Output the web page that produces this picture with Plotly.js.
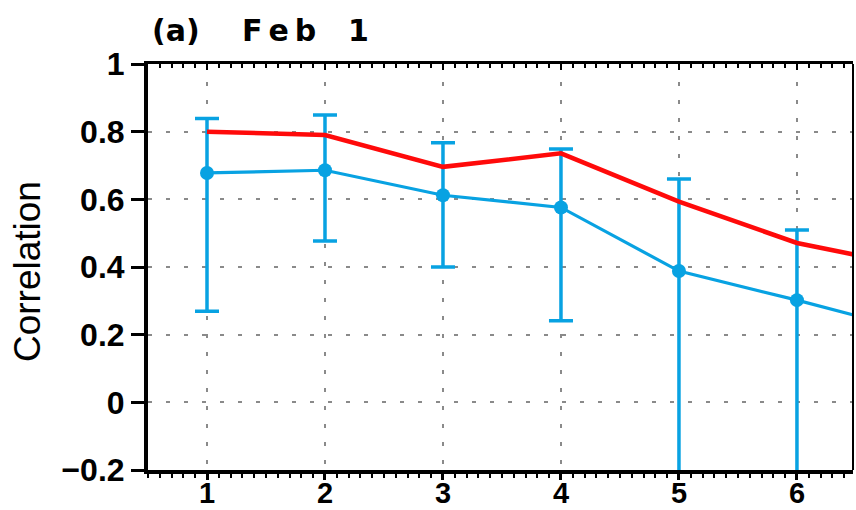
<!DOCTYPE html>
<html>
<head>
<meta charset="utf-8">
<script src="https://cdn.plot.ly/plotly-3.0.1.min.js"></script>
<style>
  html, body { margin: 0; padding: 0; background: #fff; }
  #chart { width: 856px; height: 510px; }
</style>
</head>
<body>
<div id="chart"></div>
<script>
// Forecast lead (months) and correlation skill
const leads = [1, 2, 3, 4, 5, 6, 7];
const tickLabels = ['1', '2', '3', '4', '5', '6'];

// Red curve: correlation of the ensemble mean
const ensembleMean = [0.80, 0.79, 0.696, 0.736, 0.593, 0.471, 0.40];

// Blue curve: mean of individual members, with spread (max / min)
const memberMean = [0.678, 0.686, 0.612, 0.576, 0.388, 0.302, 0.21];
const memberMax  = [0.839, 0.849, 0.767, 0.749, 0.660, 0.509, 0.21];
const memberMin  = [0.269, 0.477, 0.400, 0.241, -0.35, -0.40, 0.21];

const errPlus  = memberMax.map((v, i) => v - memberMean[i]);
const errMinus = memberMean.map((v, i) => v - memberMin[i]);

const BLUE = '#08a2e2';
const RED = '#ff0a0a';

const traces = [
  {
    x: leads, y: memberMean, type: 'scatter', mode: 'lines+markers',
    line: { color: BLUE, width: 3.2 },
    marker: { color: BLUE, size: 14, symbol: 'circle' },
    error_y: {
      type: 'data', symmetric: false,
      array: errPlus, arrayminus: errMinus,
      color: BLUE, thickness: 3.5, width: 12
    },
    cliponaxis: true, showlegend: false, hoverinfo: 'skip'
  },
  {
    x: leads, y: ensembleMean, type: 'scatter', mode: 'lines',
    line: { color: RED, width: 4.5 },
    cliponaxis: true, showlegend: false, hoverinfo: 'skip'
  },
  { x: [], y: [], xaxis: 'x2', yaxis: 'y', type: 'scatter', showlegend: false, hoverinfo: 'skip' }
];

const tickFont = { family: 'Liberation Sans, Arial, sans-serif', size: 32, color: '#000', weight: 'bold' };
const titleFont = { family: 'DejaVu Sans, sans-serif', size: 30, color: '#000', weight: 'bold' };
const xRange = [0.5, 6.475];

const layout = {
  width: 856, height: 510,
  margin: { l: 148, r: 3, t: 64, b: 40 },
  paper_bgcolor: '#fff', plot_bgcolor: '#fff',
  xaxis: {
    range: xRange, tickmode: 'array', tickvals: leads.slice(0, 6), ticktext: tickLabels,
    showline: true, linecolor: '#000', linewidth: 4, mirror: false,
    ticks: 'outside', ticklen: 6, tickwidth: 3, tickcolor: '#000',
    ticklabelstandoff: -12,
    minor: { dtick: 0.1, tick0: 0, ticks: 'outside', ticklen: 4, tickwidth: 2, tickcolor: '#000', showgrid: false },
    showgrid: true, gridcolor: '#8a8a8a', gridwidth: 2, griddash: '4px,14px',
    zeroline: false, tickfont: { ...tickFont, size: 29 }, fixedrange: true
  },
  xaxis2: {
    overlaying: 'x', side: 'top', anchor: 'y', range: xRange,
    tickmode: 'array', tickvals: leads.slice(0, 6),
    showline: true, linecolor: '#000', linewidth: 3,
    ticks: 'inside', ticklen: 6, tickwidth: 2, tickcolor: '#000',
    minor: { dtick: 0.1, tick0: 0, ticks: 'inside', ticklen: 4, tickwidth: 2, tickcolor: '#000', showgrid: false },
    showticklabels: false, showgrid: false, zeroline: false, fixedrange: true
  },
  yaxis: {
    range: [-0.2, 1], tickmode: 'array',
    tickvals: [-0.2, 0, 0.2, 0.4, 0.6, 0.8, 1],
    ticktext: ['\u22120.2', '0', '0.2', '0.4', '0.6', '0.8', '1'],
    showline: true, linecolor: '#000', linewidth: 4,
    ticks: 'outside', ticklen: 13, tickwidth: 3, tickcolor: '#000',
    showgrid: true, gridcolor: '#8a8a8a', gridwidth: 2, griddash: '4px,14px',
    zeroline: false, tickfont: tickFont, fixedrange: true
  },
  shapes: [
    { type: 'line', xref: 'paper', yref: 'paper', x0: 1, x1: 1, y0: 0, y1: 1,
      line: { color: '#000', width: 2 } }
  ],
  annotations: [
    { text: '(a)', xref: 'paper', yref: 'paper', x: 0.003, y: 1.082,
      xanchor: 'left', yanchor: 'middle', showarrow: false, font: titleFont },
    { text: 'F\u2009e\u2009b', xref: 'paper', yref: 'paper', x: 0.131, y: 1.082,
      xanchor: 'left', yanchor: 'middle', showarrow: false, font: titleFont },
    { text: '1', xref: 'paper', yref: 'paper', x: 0.281, y: 1.082,
      xanchor: 'left', yanchor: 'middle', showarrow: false, font: titleFont },
    { text: 'Correlation', xref: 'paper', yref: 'paper', x: -0.17, y: 0.488,
      xanchor: 'center', yanchor: 'middle', textangle: -90, showarrow: false,
      font: { family: 'Liberation Sans, Arial, sans-serif', size: 37, color: '#000' } }
  ]
};

Plotly.newPlot('chart', traces, layout, { staticPlot: true, displayModeBar: false });
</script>
</body>
</html>
